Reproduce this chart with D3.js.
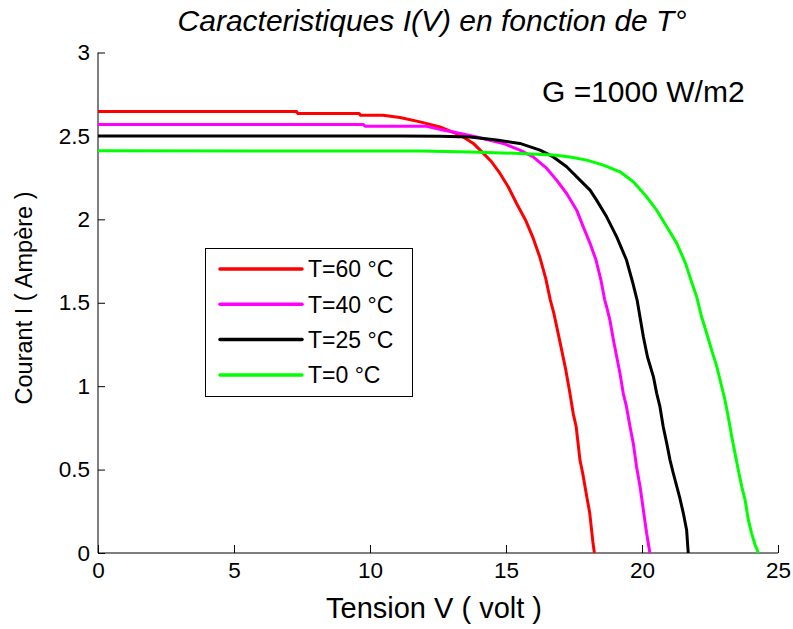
<!DOCTYPE html>
<html lang="en">
<head>
  <meta charset="UTF-8">
  <title>Caracteristiques I(V) en fonction de T°</title>
  <script src="https://d3js.org/d3.v7.min.js"></script>
  <style>
    body { margin: 0; background: #fff; }
    svg text { font-family: "Liberation Sans", Arial, sans-serif; fill: #000; }
    .axis path, .axis line { stroke: #000; stroke-width: 1px; }
    .axis text { font-size: 22.5px; }
    .curve { fill: none; stroke-width: 3px; stroke-linejoin: round; }
  </style>
</head>
<body>
  <svg id="chart" width="793" height="629"></svg>

  <script>
    // I(V) points: [tension (V), courant (A)]
    const curveT60 = [
      [0, 2.646], [7.3, 2.646], [7.35, 2.634], [9.6, 2.634], [9.65, 2.624], [10.48, 2.624],
      [11.1, 2.61], [11.84, 2.584], [12.57, 2.554], [13.31, 2.505], [13.8, 2.455],
      [14.17, 2.395], [14.47, 2.345], [14.78, 2.275], [15.08, 2.195], [15.39, 2.095],
      [15.72, 1.995], [15.98, 1.895], [16.24, 1.775], [16.46, 1.646], [16.63, 1.516],
      [16.76, 1.436], [16.97, 1.276], [17.2, 1.096], [17.33, 0.977], [17.47, 0.837],
      [17.58, 0.757], [17.72, 0.557], [17.82, 0.478], [17.97, 0.337], [18.08, 0.238],
      [18.2, 0.058], [18.25, 0]
    ];
    const curveT40 = [
      [0, 2.569], [9.75, 2.569], [9.82, 2.558], [12.08, 2.558], [12.57, 2.539],
      [13.06, 2.524], [13.92, 2.494], [14.9, 2.455], [15.51, 2.415], [16.0, 2.374],
      [16.5, 2.305], [16.86, 2.235], [17.23, 2.155], [17.6, 2.055], [17.84, 1.955],
      [18.09, 1.856], [18.31, 1.756], [18.49, 1.636], [18.63, 1.516], [18.7, 1.476],
      [18.82, 1.396], [18.95, 1.276], [19.07, 1.176], [19.19, 1.077], [19.31, 0.957],
      [19.43, 0.877], [19.56, 0.757], [19.68, 0.657], [19.8, 0.517], [19.93, 0.397],
      [20.05, 0.258], [20.17, 0.118], [20.29, 0]
    ];
    const curveT25 = [
      [0, 2.5], [11.1, 2.5], [12.57, 2.498], [13.68, 2.494], [14.66, 2.475],
      [15.51, 2.455], [16.25, 2.415], [16.74, 2.374], [17.23, 2.315], [17.72, 2.235],
      [18.09, 2.175], [18.33, 2.115], [18.7, 2.015], [19.07, 1.895], [19.43, 1.756],
      [19.65, 1.626], [19.82, 1.516], [20.05, 1.296], [20.2, 1.176], [20.42, 1.056],
      [20.54, 0.957], [20.66, 0.877], [20.78, 0.757], [20.91, 0.657], [21.03, 0.557],
      [21.15, 0.478], [21.38, 0.337], [21.52, 0.238], [21.64, 0.138], [21.7, 0]
    ];
    const curveT0 = [
      [0, 2.411], [11.84, 2.409], [13.68, 2.404], [15.51, 2.395], [16.74, 2.385],
      [17.35, 2.374], [17.97, 2.355], [18.58, 2.325], [19.19, 2.285], [19.68, 2.225],
      [20.17, 2.135], [20.54, 2.055], [20.91, 1.955], [21.28, 1.856], [21.6, 1.736],
      [21.82, 1.626], [22.01, 1.536], [22.19, 1.416], [22.38, 1.316], [22.56, 1.216],
      [22.75, 1.117], [22.87, 1.037], [23.05, 0.917], [23.17, 0.817], [23.3, 0.697],
      [23.42, 0.597], [23.54, 0.497], [23.67, 0.397], [23.79, 0.318], [23.91, 0.198],
      [24.03, 0.118], [24.16, 0.048], [24.28, 0]
    ];

    const seriesLabels = ["T=60 °C", "T=40 °C", "T=25 °C", "T=0 °C"];
    const seriesColors = ["#ff0000", "#ff00ff", "#000000", "#00ff00"];
    const seriesData = [curveT60, curveT40, curveT25, curveT0];

    const xTicks = [0, 5, 10, 15, 20, 25];
    const yTicks = [0, 0.5, 1, 1.5, 2, 2.5, 3];

    const svg = d3.select("#chart");

    // plot box
    const plotLeft = 98, plotRight = 778, plotTop = 52.5, plotBottom = 553;

    const x = d3.scaleLinear().domain([0, 25]).range([plotLeft, plotRight]);
    const y = d3.scaleLinear().domain([0, 3]).range([plotBottom, plotTop]);

    // axes, MATLAB style: ticks pointing inside, no box
    svg.append("g")
      .attr("class", "axis")
      .attr("transform", `translate(0,${plotBottom})`)
      .call(d3.axisBottom(x).tickValues(xTicks).tickFormat(d3.format("d"))
        .tickSizeInner(-8).tickSizeOuter(0).tickPadding(9))
      .call(g => g.select(".domain").attr("d", `M${plotLeft},0H${plotRight}`))
      .selectAll("text").attr("dy", "0.71em");

    svg.append("g")
      .attr("class", "axis")
      .attr("transform", `translate(${plotLeft},0)`)
      .call(d3.axisLeft(y).tickValues(yTicks).tickFormat(d => d)
        .tickSizeInner(-7).tickSizeOuter(0).tickPadding(8))
      .call(g => g.select(".domain").attr("d", `M0,${plotBottom}V${plotTop}`));

    // curves
    const line = d3.line()
      .x(d => x(d[0]))
      .y(d => y(d[1]));

    svg.append("g")
      .selectAll("path")
      .data(seriesData)
      .enter()
      .append("path")
      .attr("class", "curve")
      .attr("stroke", (d, i) => seriesColors[i])
      .attr("d", line);

    // titles
    svg.append("text")
      .attr("x", 432)
      .attr("y", 31)
      .attr("text-anchor", "middle")
      .attr("font-size", 30)
      .attr("font-style", "italic")
      .text("Caracteristiques I(V) en fonction de T°");

    svg.append("text")
      .attr("x", 434)
      .attr("y", 618)
      .attr("text-anchor", "middle")
      .attr("font-size", 29)
      .text("Tension V ( volt )");

    svg.append("text")
      .attr("transform", "translate(32,298) rotate(-90)")
      .attr("text-anchor", "middle")
      .attr("font-size", 23.5)
      .text("Courant I ( Ampère )");

    svg.append("text")
      .attr("x", 542)
      .attr("y", 102)
      .attr("font-size", 30)
      .text("G =1000 W/m2");

    // legend
    const legend = svg.append("g");
    legend.append("rect")
      .attr("x", 205.5)
      .attr("y", 248.5)
      .attr("width", 207)
      .attr("height", 148)
      .attr("fill", "#fff")
      .attr("stroke", "#000")
      .attr("stroke-width", 1);

    const rows = legend.selectAll("g.row")
      .data(seriesLabels)
      .enter()
      .append("g")
      .attr("class", "row")
      .attr("transform", (d, i) => `translate(0,${269 + i * 35.3})`);

    rows.append("line")
      .attr("x1", 220).attr("x2", 302)
      .attr("y1", 0).attr("y2", 0)
      .attr("stroke", (d, i) => seriesColors[i])
      .attr("stroke-width", 3.5)
      .attr("stroke-linecap", "round");

    rows.append("text")
      .attr("x", 308)
      .attr("y", 0)
      .attr("dy", "0.36em")
      .attr("font-size", 23)
      .text(d => d);
  </script>
</body>
</html>
